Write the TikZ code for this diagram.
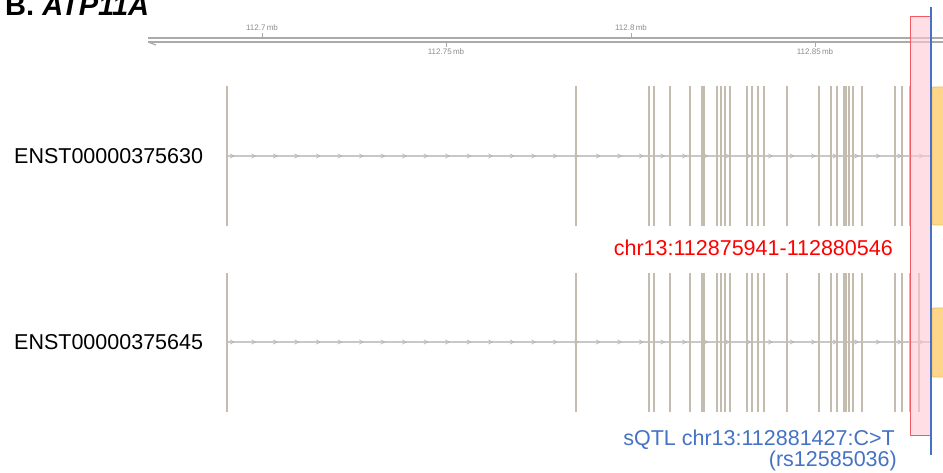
\documentclass[tikz,border=0pt]{standalone}
\usepackage{fontspec}
\setmainfont{Liberation Sans}
\usepackage{tikz}

\definecolor{exoncol}{RGB}{196,188,174}
\definecolor{introncol}{RGB}{200,200,200}
\definecolor{axiscol}{RGB}{170,170,170}
\definecolor{regionfill}{RGB}{255,200,212}
\definecolor{regionline}{RGB}{245,90,100}
\definecolor{snpblue}{RGB}{68,114,196}
\definecolor{utrfill}{RGB}{253,214,140}
\definecolor{utrline}{RGB}{238,190,105}

\begin{document}
\begin{tikzpicture}[
  x=1pt, y=-1pt,
  lab/.style   = {inner sep=0pt, font=\fontsize{21.5}{21}\selectfont},
  tick/.style  = {inner sep=0pt, text=gray!90, font=\fontsize{8}{8}\selectfont},
  exon/.style  = {exoncol, line width=2.5pt},
  intron/.style= {introncol, line width=1.2pt},
  chev/.style  = {gray!60, line width=0.6pt},
  utr/.style   = {fill=utrfill, draw=utrline, line width=0.8pt, rounded corners=2pt}
]
  \clip (0,0) rectangle (943,473);

  % Title
  \node[inner sep=0pt, anchor=base west, font=\fontsize{29}{30}\bfseries] (title) at (5,16)
    {B. \textit{ATP11A}};

  % Scale axis
  \draw[axiscol, line width=1.5pt] (148,38) -- (943,38);
  \draw[axiscol, line width=1.5pt] (148,42) -- (943,42);
  \draw[axiscol, line width=1.2pt] (148,42) -- (156,45);
  \foreach \x/\t in {262/112.7, 631/112.8} {
    \draw[axiscol] (\x,33) -- (\x,38);
    \node[tick, anchor=base] at (\x,31) {\t\,mb};
  }
  \foreach \x/\t in {446/112.75, 815/112.85} {
    \draw[axiscol] (\x,42) -- (\x,47);
    \node[tick, anchor=base] at (\x,55) {\t\,mb};
  }

  % Transcript labels
  \node[lab, anchor=west] (tA) at (14,156) {ENST00000375630};
  \node[lab, anchor=west] (tB) at (14,342) {ENST00000375645};

  % Introns with strand chevrons
  \foreach \y in {156,342} {
    \draw[intron] (227,\y) -- (932,\y);
    \foreach \i in {0,...,32}
      \draw[chev] ({232+21.53*\i-2},\y-2.2) -- ({232+21.53*\i+2},\y) -- ({232+21.53*\i-2},\y+2.2);
  }

  % Exons
  \foreach \x in {227,576,649,654,670,690,702,704,717,721,725,730,747,752,758,764,
                  787,819,831,837,844,846,849,853,862,895,902,910}
    \draw[exon] (\x,86) -- (\x,226);
  \foreach \x in {227,576,649,654,670,690,702,704,717,721,725,730,747,752,758,764,
                  787,819,831,837,844,846,849,853,862,895,902,910,919}
    \draw[exon] (\x,273) -- (\x,412);

  % UTR blocks at the right edge
  \draw[utr] (932,87) rectangle (962,225);
  \draw[utr] (932,308) rectangle (962,377);

  % Highlighted region
  \fill[regionfill, fill opacity=0.6] (910,17) rectangle (930,435);
  \draw[regionline, line width=1pt] (910,17) rectangle (930,435);
  \node[lab, text=red, anchor=base east] (region) at (893,256) {chr13:112875941-112880546};

  % sQTL position
  \draw[snpblue, line width=1.3pt] (931,7) -- (931,455);
  \node[lab, text=snpblue, anchor=base east] (sqtl) at (895,445) {sQTL chr13:112881427:C>T};
  \node[lab, text=snpblue, anchor=base east] (rsid) at (897,466) {(rs12585036)};

\end{tikzpicture}
\end{document}
